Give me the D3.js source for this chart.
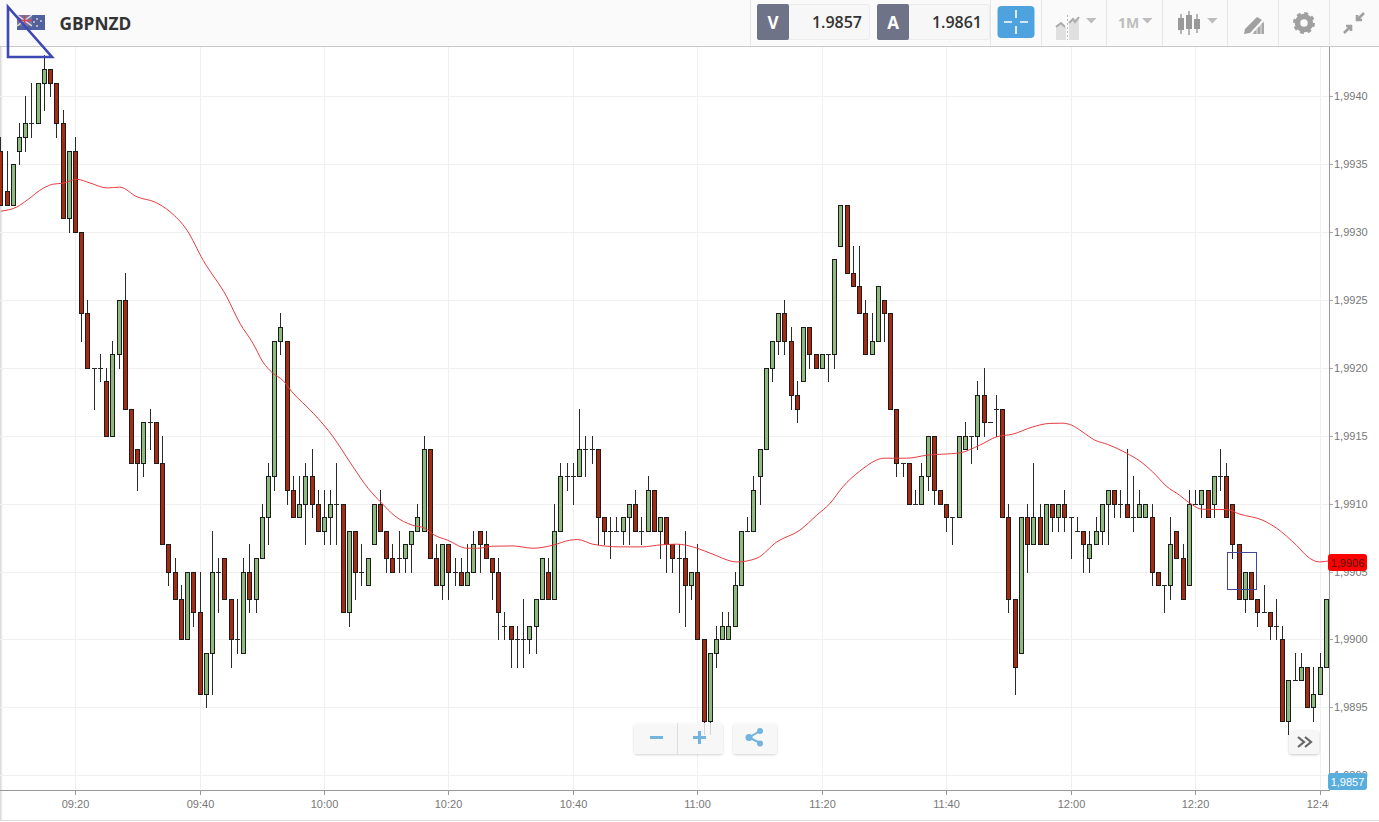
<!DOCTYPE html>
<html lang="en">
<head>
<meta charset="UTF-8">
<title>GBPNZD</title>
<script src="https://d3js.org/d3.v7.min.js"></script>
<style>
    html, body { margin: 0; padding: 0; background: #fff; overflow: hidden; }
    svg { display: block; }
    .tick-label { font-family: "Liberation Sans", Arial, sans-serif; font-size: 11px; fill: #777; }
    .head { font-family: "Open Sans", sans-serif; }
</style>
</head>
<body>
<svg id="chart" width="1379" height="822"></svg>
<script>
// one candle per minute, first one at 09:08. Values are pips above 1.9900
const pipBase = 1.99;
const opens = [
    36,33,32,36,37,38,38,41,42,41, 38,31,36,30,24,20,20,19,15,21,
    25,17,14,13,16,16,13,7,5,3, 0,5,2,-4,-1,5,6,3,0,-1,
    5,3,6,9,12,22,22,11,9,10, 12,10,8,9,10,10,2,8,5,4,
    7,10,8,6,6,6,7,8,8,14, 6,4,7,5,5,4,5,8,7,6,
    5,1,1,0,0,0,1,3,5,3, 8,12,12,12,14,14,14,9,8,8,
    8,9,10,8,8,11,8,9,7,6, 6,4,5,0,-6,-1,0,0,1,4,
    8,8,12,14,20,22,24,22,18,19, 23,21,20,21,21,29,32,27,26,24,
    21,22,25,24,17,13,13,10,10,12, 15,11,10,9,9,14,15,15,18,16,
    17,17,9,3,-1,9,7,9,7,10, 9,10,9,8,8,6,7,8,10,11,
    10,10,9,9,9,9,5,4,4,8, 6,4,10,10,11,10,12,12,10,7,
    3,5,3,2,2,1,0,-6,-3,-3, -2,-5,-4,-2
];
const highs = [
    37,36,35,38,40,41,41,43,42,41, 39,36,37,30,25,20,21,20,22,25,
    27,17,14,16,17,16,15,7,6,4, 5,5,5,-1,8,6,6,3,3,6,
    7,6,10,13,22,24,22,12,12,13, 14,11,11,11,13,10,8,8,7,6,
    10,11,8,7,8,7,8,10,15,14, 7,7,7,6,6,7,8,8,8,6,
    6,2,1,1,3,1,3,6,6,10, 13,13,13,17,15,15,14,9,9,9,
    9,10,11,9,12,11,9,9,7,7, 8,5,7,0,-1,1,2,2,5,8,
    9,12,14,20,22,24,25,23,19,23, 23,21,21,21,28,32,32,29,29,25,
    24,26,25,24,17,13,13,11,13,15, 15,11,10,9,15,16,15,19,20,16,
    18,17,10,3,9,10,13,10,10,10, 10,11,9,9,8,8,9,10,11,11,
    11,14,12,11,10,10,5,4,9,8, 7,11,11,11,11,12,14,13,10,7,
    5,5,3,4,2,3,1,-3,-1,-1, -2,-2,-1,3
];
const lows = [
    32,32,32,35,36,37,38,39,40,37, 31,30,30,22,20,17,19,15,15,20,
    17,13,11,12,14,13,7,4,3,0, 0,1,-4,-5,-4,2,3,-2,-1,-1,
    2,2,6,7,11,21,10,9,9,7, 9,8,7,7,7,2,1,3,4,4,
    7,8,5,5,5,5,5,8,8,6, 4,3,3,4,4,4,5,5,6,3,
    0,0,-2,-2,-2,-1,-1,3,3,3, 8,11,10,12,12,13,7,7,6,8,
    7,7,8,7,8,8,6,5,5,2, 1,3,0,-7,-7,-2,0,0,1,4,
    8,8,10,14,19,21,21,17,16,19, 20,20,20,19,20,29,27,26,24,21,
    21,22,22,17,12,12,10,10,10,11, 10,10,8,7,9,14,13,14,15,16,
    15,9,2,-4,-1,5,7,7,7,8, 8,8,6,8,5,5,7,7,7,9,
    9,9,8,9,9,4,4,2,3,6, 3,4,10,9,9,9,11,9,6,3,
    2,3,1,2,0,0,-6,-7,-3,-3, -5,-6,-4,-2
];
const closes = [
    32,32,35,37,38,38,41,42,41,38, 31,36,30,24,20,20,20,15,21,25,
    17,13,13,16,16,13,7,5,3,0, 5,2,-4,-1,5,5,3,0,0,5,
    3,6,9,12,22,23,11,9,10,12, 10,8,9,10,10,2,8,5,5,6,
    10,8,6,5,6,7,8,9,14,6, 4,7,5,5,4,5,7,7,6,5,
    2,1,0,0,0,1,3,6,3,8, 12,12,12,14,14,14,9,8,8,8,
    9,10,8,8,11,8,9,7,6,6, 4,5,0,-6,-1,0,1,1,4,8,
    8,11,14,20,22,24,22,18,17,23, 21,20,21,21,28,32,27,26,24,21,
    22,26,24,17,13,13,10,10,12,15, 11,10,9,9,15,15,15,18,16,16,
    17,9,3,-2,9,7,9,7,10,9, 10,9,9,8,7,7,8,10,11,10,
    10,9,9,10,10,5,4,4,7,6, 3,10,10,11,9,12,12,9,7,3,
    5,3,2,2,1,1,-6,-3,-3,-2, -5,-4,-2,3
];

// moving average, minutes after the first candle / pips above 1.9900
const maMinutes = [
    0,2.6,4.2,6.8,8.4,10,12.2,14.3,17.1,19.1,21.9,24.8,27.2,29.9,32.5,36.3,38.4,40.5,42.1,43.7,
    45.3,46.8,50.2,53.4,54.5,56.6,59,61.2,63.3,66.1,68.1,69.7,71.8,74.9,76.6,79.1,82.3,85.5,88.7,91.4,
    92.7,95.1,99.5,103.2,105.4,108.6,111.8,114.4,118.3,121.5,124.7,128.4,131.1,133.2,135.3,138,142,145.6,148.8,154.1,
    157.3,160,162.6,165.8,168.5,170.5,172.1,173.8,175.8,177.9,180.9,183,185.1,187.3,189.4,191,193.1,197,199.1,202.8,
    205,208.2,210.3,211.9,213.4
];
const maValues = [
    31.57,31.89,32.38,33.26,33.56,33.63,33.92,33.65,33.28,33.34,32.62,32.23,31.52,30.17,27.96,25.26,23.32,21.85,20.47,19.64,
    19.12,18.26,16.69,14.95,14.21,12.74,11.17,10.07,9.13,8.45,8.23,7.71,7.34,6.75,6.75,6.9,6.92,6.75,6.97,7.34,
    7.39,7.05,6.85,6.85,6.97,7.05,6.77,6.31,5.74,6.02,7.22,8.08,9.18,10.03,11.27,12.42,13.38,13.38,13.6,13.77,
    14.34,14.95,15.15,15.68,15.94,15.96,15.81,15.32,14.71,14.39,13.75,13.18,12.37,11.32,10.66,10.09,9.62,9.6,9.26,8.81,
    8.23,6.97,6.02,5.74,5.82
];

const priceTicks = [1.989, 1.9895, 1.99, 1.9905, 1.991, 1.9915, 1.992, 1.9925, 1.993, 1.9935, 1.994];
const symbol = "GBPNZD";
const sellPrice = "1.9857";
const buyPrice = "1.9861";
const maLabel = "1,9906";
const lastLabel = "1,9857";

const firstCandle = new Date(2016, 0, 4, 9, 8);
const minuteAt = m => new Date(+firstCandle + m * 60000);
const price = p => pipBase + p / 10000;
const fmtPrice = d3.format(".4f");

const plotW = 1329, plotTop = 47, plotBottom = 790;

const x = d3.scaleTime()
    .domain([firstCandle, minuteAt(213)])
    .rangeRound([0.38, 1325.79]);
const y = d3.scaleLinear()
    .domain([1.989, 1.994])
    .rangeRound([775.2, 96.2]);
// same mapping without the pixel snap, for the smooth line
const xFine = d3.scaleTime().domain(x.domain()).range([0.9, 1326.3]);
const yFine = d3.scaleLinear().domain(y.domain()).range([775.7, 96.7]);

const svg = d3.select("#chart");
const defs = svg.append("defs");
defs.append("clipPath").attr("id", "plot-clip").append("rect")
    .attr("x", 0).attr("y", plotTop).attr("width", plotW).attr("height", plotBottom - plotTop);
defs.append("clipPath").attr("id", "time-clip").append("rect")
    .attr("x", 0).attr("y", 0).attr("width", plotW).attr("height", 30);
const edge = defs.append("linearGradient").attr("id", "left-edge");
edge.append("stop").attr("offset", 0).attr("stop-color", "#d0d0d0");
edge.append("stop").attr("offset", 1).attr("stop-color", "#fff").attr("stop-opacity", 0);
const shadow = defs.append("filter").attr("id", "btn-shadow")
    .attr("x", "-10%").attr("y", "-10%").attr("width", "120%").attr("height", "130%");
shadow.append("feDropShadow").attr("dx", 0).attr("dy", 1).attr("stdDeviation", 1)
    .attr("flood-color", "#000").attr("flood-opacity", 0.22);

svg.append("rect").attr("x", 0).attr("y", plotTop).attr("width", 4).attr("height", 773)
    .attr("fill", "url(#left-edge)");

// grid
const gridTimes = d3.timeMinute.every(20).range(firstCandle, minuteAt(214));
const grid = svg.append("g").attr("shape-rendering", "crispEdges").attr("stroke", "#f0f0f0");
grid.selectAll(".gy").data(priceTicks).join("line")
    .attr("x1", 0).attr("x2", plotW)
    .attr("y1", d => y(d) + 0.5).attr("y2", d => y(d) + 0.5);
grid.selectAll(".gx").data(gridTimes).join("line")
    .attr("y1", plotTop).attr("y2", plotBottom)
    .attr("x1", d => x(d) + 0.5).attr("x2", d => x(d) + 0.5);

// axes
const timeAxis = d3.axisBottom(x)
    .tickValues(gridTimes).tickSize(5).tickSizeOuter(0).tickPadding(5)
    .tickFormat(d3.timeFormat("%H:%M"));
const xG = svg.append("g")
    .attr("transform", `translate(0,${plotBottom})`)
    .attr("clip-path", "url(#time-clip)")
    .call(timeAxis);
xG.select(".domain").remove();
xG.selectAll("line").attr("stroke", "#999").attr("shape-rendering", "crispEdges");
xG.selectAll("text").attr("class", "tick-label").attr("font-family", null).attr("font-size", null).attr("fill", null);

const priceAxis = d3.axisRight(y)
    .tickValues(priceTicks).tickSize(4).tickSizeOuter(0).tickPadding(1)
    .tickFormat(d => fmtPrice(d).replace(".", ","));
const yG = svg.append("g")
    .attr("transform", `translate(${plotW},0)`)
    .call(priceAxis);
yG.select(".domain").remove();
yG.selectAll("line").attr("stroke", "#aaa").attr("shape-rendering", "crispEdges");
yG.selectAll("text").attr("class", "tick-label").attr("font-family", null).attr("font-size", null).attr("fill", null);

svg.append("line").attr("x1", 0).attr("x2", plotW + 1).attr("y1", plotBottom + 0.5).attr("y2", plotBottom + 0.5)
    .attr("stroke", "#999");
svg.append("line").attr("x1", plotW + 0.5).attr("x2", plotW + 0.5).attr("y1", plotTop).attr("y2", plotBottom)
    .attr("stroke", "#999");
svg.append("line").attr("x1", 0).attr("x2", 1379).attr("y1", 820.5).attr("y2", 820.5)
    .attr("stroke", "#dddddd");

// candles
const candles = opens.map((o, i) => ({
    t: minuteAt(i), o: price(o), h: price(highs[i]), l: price(lows[i]), c: price(closes[i])
}));
const plot = svg.append("g").attr("clip-path", "url(#plot-clip)");
const candleG = plot.append("g").attr("shape-rendering", "crispEdges");
const bar = candleG.selectAll("g").data(candles).join("g")
    .attr("transform", d => `translate(${x(d.t) + 0.5},0)`);
bar.append("line")
    .attr("y1", d => y(d.h)).attr("y2", d => y(d.l) + 1)
    .attr("stroke", "#2a2a2a");
bar.filter(d => d.o === d.c).append("line")
    .attr("x1", -2.5).attr("x2", 2.5)
    .attr("y1", d => y(d.c) + 0.5).attr("y2", d => y(d.c) + 0.5)
    .attr("stroke", "#2a2a2a");
bar.filter(d => d.o !== d.c).append("rect")
    .attr("x", -2).attr("width", 4)
    .attr("y", d => y(Math.max(d.o, d.c)) + 0.5)
    .attr("height", d => y(Math.min(d.o, d.c)) - y(Math.max(d.o, d.c)))
    .attr("fill", d => d.c > d.o ? "#8fba7f" : "#a52c12")
    .attr("stroke", "#1c1c1c");

// moving average
const maLine = d3.line()
    .x(d => xFine(minuteAt(d[0])))
    .y(d => yFine(price(d[1])))
    .curve(d3.curveMonotoneX);
plot.append("path")
    .datum(maMinutes.map((m, i) => [m, maValues[i]]))
    .attr("d", maLine)
    .attr("fill", "none")
    .attr("stroke", "#e63c40")
    .attr("stroke-width", 1);

// rectangle drawn on the chart (minutes / pips)
const noteRectMinutes = [197.2, 201.8];
const noteRectPips = [6.46, 3.71];
plot.append("rect")
    .attr("x", xFine(minuteAt(noteRectMinutes[0])))
    .attr("y", yFine(price(noteRectPips[0])))
    .attr("width", xFine(minuteAt(noteRectMinutes[1])) - xFine(minuteAt(noteRectMinutes[0])))
    .attr("height", yFine(price(noteRectPips[1])) - yFine(price(noteRectPips[0])))
    .attr("fill", "none").attr("stroke", "#45459b").attr("shape-rendering", "crispEdges");

// price tags on the right
function tag(yPos, fill, color, label) {
    svg.append("rect").attr("x", 1328).attr("y", yPos).attr("width", 39).attr("height", 17)
        .attr("rx", 3).attr("fill", fill);
    svg.append("text").attr("class", "tick-label").attr("x", 1347.5).attr("y", yPos + 12.5)
        .attr("text-anchor", "middle").style("fill", color).text(label);
}
tag(554, "#ff0000", "#4a1a1a", maLabel);
tag(773, "#5aaede", "#ffffff", lastLabel);

// header bar
const head = svg.append("g");
head.append("rect").attr("width", 1379).attr("height", 46).attr("fill", "#fafafa");
head.append("line").attr("x1", 0).attr("x2", 1379).attr("y1", 46.5).attr("y2", 46.5).attr("stroke", "#c9c9c9");
[750.5, 990.5, 1041.5, 1106.5, 1162.5, 1227.5, 1278.5, 1329.5].forEach(sx => {
    head.append("line").attr("x1", sx).attr("x2", sx).attr("y1", 0).attr("y2", 46).attr("stroke", "#e6e6e6");
});

// flag
const flag = head.append("g").attr("transform", "translate(17,15)").attr("opacity", 0.85);
flag.append("rect").attr("width", 28).attr("height", 15).attr("fill", "#33488f");
flag.append("rect").attr("width", 15).attr("height", 11).attr("fill", "#5b5f95");
flag.append("path").attr("d", "M0 0L15 11M15 0L0 11").attr("stroke", "#e8d8dc").attr("stroke-width", 1.4);
flag.append("path").attr("d", "M7.5 0V11M0 5.5H15").attr("stroke", "#c8283a").attr("stroke-width", 1.6);
[[20, 4], [24, 6], [20, 11], [17, 7]].forEach(s => {
    flag.append("circle").attr("cx", s[0]).attr("cy", s[1]).attr("r", 1).attr("fill", "#e0b8c0");
});

head.append("text").attr("class", "head").attr("x", 59.5).attr("y", 30)
    .attr("font-size", 17.3).attr("font-weight", 700).attr("fill", "#333").text(symbol);

function quote(bx, letter, value, right) {
    head.append("rect").attr("x", bx + 0.5).attr("y", 4.5).attr("width", right - bx).attr("height", 35)
        .attr("rx", 2).attr("fill", "#f7f7f7").attr("stroke", "#ececec");
    head.append("rect").attr("x", bx).attr("y", 4).attr("width", 32).attr("height", 36)
        .attr("rx", 2).attr("fill", "#6f7388");
    head.append("text").attr("class", "head").attr("x", bx + 16).attr("y", 29)
        .attr("text-anchor", "middle").attr("font-size", 17).attr("font-weight", 700).attr("fill", "#fff").text(letter);
    head.append("text").attr("class", "head").attr("x", right - 7).attr("y", 28)
        .attr("text-anchor", "end").attr("font-size", 16).attr("font-weight", 600).attr("fill", "#333").text(value);
}
quote(757, "V", sellPrice, 869);
quote(877, "A", buyPrice, 989);

// crosshair button
head.append("rect").attr("x", 997.5).attr("y", 6).attr("width", 37).attr("height", 32).attr("rx", 4).attr("fill", "#4ea3de");
head.append("path").attr("d", "M1004 22H1012M1020 22H1028M1016 10V18M1016 26V34")
    .attr("stroke", "#fff").attr("stroke-width", 1.6).attr("fill", "none");

// toolbar icons
const iconGray = "#bdbdbd";
head.append("path").attr("d", "M1056 40V27L1061 23L1066 28L1066 40ZM1069 40V22L1079 17V40Z").attr("fill", "#e0e0e0");
head.append("path").attr("d", "M1056 27L1061 23L1065 27M1069 23L1073 19L1075 22L1079 17")
    .attr("fill", "none").attr("stroke", "#aaa").attr("stroke-width", 2);
head.append("line").attr("x1", 1067.5).attr("x2", 1067.5).attr("y1", 15).attr("y2", 40).attr("stroke", "#bbb").attr("stroke-dasharray", "2,2");
[[1086, 18], [1142, 18], [1207, 18]].forEach(t => {
    head.append("path").attr("d", `M${t[0]} ${t[1]}h10.5l-5.2 5.5z`).attr("fill", iconGray);
});
head.append("text").attr("class", "head").attr("x", 1118).attr("y", 28)
    .attr("font-size", 14).attr("font-weight", 700).attr("fill", iconGray).text("1M");
[[1181, 14, 34, 18, 30], [1189, 11, 35, 15, 29], [1197, 14, 33, 19, 29]].forEach(c => {
    head.append("line").attr("x1", c[0]).attr("x2", c[0]).attr("y1", c[1]).attr("y2", c[2]).attr("stroke", "#999").attr("stroke-width", 1.4);
    head.append("rect").attr("x", c[0] - 3).attr("y", c[3]).attr("width", 6).attr("height", c[4] - c[3]).attr("fill", "#999");
});
head.append("path").attr("d", "M1245 29L1257 17L1262 20L1250 33L1244 34Z").attr("fill", "#a0a0a0");
head.append("path").attr("d", "M1252 34H1264V21Z").attr("fill", "#c6c6c6");
head.append("path").attr("d", "M1255 34V31M1259 34V27M1263 34V23").attr("stroke", "#a0a0a0").attr("stroke-width", 1.6);
// gear: ring plus teeth
head.append("circle").attr("cx", 1304).attr("cy", 23).attr("r", 6.5).attr("fill", "none")
    .attr("stroke", "#a0a0a0").attr("stroke-width", 5.5);
head.append("circle").attr("cx", 1304).attr("cy", 23).attr("r", 9.5).attr("fill", "none")
    .attr("stroke", "#a0a0a0").attr("stroke-width", 3).attr("stroke-dasharray", "3.8,3.66");
head.append("path").attr("d", "M1344 33L1351 26M1346 26H1351V31M1364 13L1357 20M1357 15V20H1362")
    .attr("fill", "none").attr("stroke", "#a0a0a0").attr("stroke-width", 2.6);

// triangle drawn on the chart, sits over the header
svg.append("path").attr("d", "M8 7V57H52Z").attr("fill", "none")
    .attr("stroke", "#3e49b5").attr("stroke-width", 2.6);

// zoom and share buttons
const btn = svg.append("g");
function button(bx, w) {
    btn.append("rect").attr("x", bx).attr("y", 723).attr("width", w).attr("height", 31).attr("rx", 3)
        .attr("fill", "#fafafa").attr("fill-opacity", 0.8).attr("filter", "url(#btn-shadow)");
}
button(634, 89);
button(733, 44);
btn.append("line").attr("x1", 677.5).attr("x2", 677.5).attr("y1", 723).attr("y2", 754).attr("stroke", "#ddd");
btn.append("path").attr("d", "M650 737.5H663M693 737.5H706M699.5 731V744")
    .attr("stroke", "#72b3e0").attr("stroke-width", 3).attr("fill", "none");
btn.append("path").attr("d", "M760 731L749 737.5L760 743").attr("stroke", "#72b3e0").attr("stroke-width", 2).attr("fill", "none");
[[749, 737.5, 3.5], [760, 731, 3], [760, 743.5, 3]].forEach(c => {
    btn.append("circle").attr("cx", c[0]).attr("cy", c[1]).attr("r", c[2]).attr("fill", "#72b3e0");
});
btn.append("rect").attr("x", 1289).attr("y", 730).attr("width", 30).attr("height", 24).attr("rx", 3)
    .attr("fill", "#f6f6f6").attr("filter", "url(#btn-shadow)");
btn.append("path").attr("d", "M1298 737L1304 742L1298 747M1305 737L1311 742L1305 747")
    .attr("fill", "none").attr("stroke", "#666").attr("stroke-width", 2.2);
</script>
</body>
</html>
